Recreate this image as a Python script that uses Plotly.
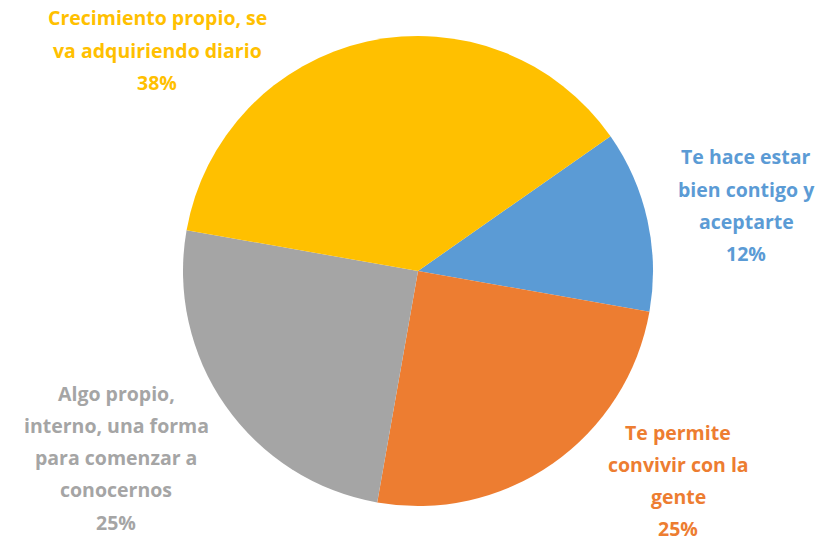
"""
Pie chart of what the answers said about self-esteem
"""
import plotly.graph_objects as go

labels = [
    "Te hace estar bien contigo y aceptarte",
    "Te permite convivir con la gente",
    "Algo propio, interno, una forma para comenzar a conocernos",
    "Crecimiento propio, se va adquiriendo diario",
]
values = [12.5, 25, 25, 37.5]
colors = ["#5B9BD5", "#ED7D31", "#A5A5A5", "#FFC000"]

# how each label is wrapped in the picture
label_lines = [
    ["Te hace estar", "bien contigo y", "aceptarte"],
    ["Te permite", "convivir con la", "gente"],
    ["Algo propio,", "interno, una forma", "para comenzar a", "conocernos"],
    ["Crecimiento propio, se", "va adquiriendo diario"],
]

W, H = 827, 542

# centre of each label block and first line y, in pixels
label_pos = [(746, 157), (678, 432), (116, 393), (157, 18)]
line_step = 32.3

fig = go.Figure()

fig.add_trace(go.Pie(
    labels=labels,
    values=values,
    marker={"colors": colors},
    sort=False,
    direction="clockwise",
    rotation=55,
    textinfo="none",
    hoverinfo="label+percent",
    showlegend=False,
    domain={"x": [(418 - 235) / W, (418 + 235) / W], "y": [(542 - 506) / H, (542 - 36) / H]},
))

total = sum(values)
for lines, value, color, (px, py) in zip(label_lines, values, colors, label_pos):
    rows = lines + ["{:.0f}%".format(100 * value / total)]
    for i, row in enumerate(rows):
        fig.add_annotation(
            x=px / W,
            y=1 - (py + i * line_step) / H,
            xref="paper",
            yref="paper",
            text="<b>{}</b>".format(row),
            showarrow=False,
            xanchor="center",
            yanchor="middle",
            font={"family": "Open Sans", "size": 19.5, "color": color},
        )

fig.update_layout(
    width=W,
    height=H,
    margin={"l": 0, "r": 0, "t": 0, "b": 0},
    paper_bgcolor="white",
    plot_bgcolor="white",
)

# page body has a default margin, drop it so the figure fills the window
fig.write_html(
    "out.html",
    config={"displayModeBar": False},
    post_script="document.body.style.margin = '0';",
)
